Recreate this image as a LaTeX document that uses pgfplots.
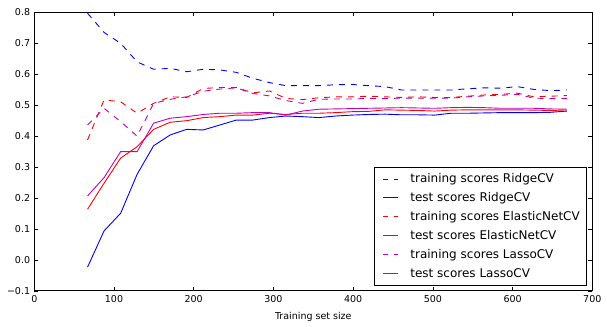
\documentclass[border=0pt]{standalone}
\usepackage{fontspec}
\setmainfont{DejaVu Sans}
\usepackage{pgfplots}
\pgfplotsset{compat=1.18}
\usepackage{pgfplotstable}
\definecolor{mplb}{rgb}{0,0,1}
\definecolor{mplr}{rgb}{1,0,0}
\definecolor{mplm}{rgb}{0.75,0,0.75}
\pgfplotstableread{
n trR trE trL teR teE teL
66.8 0.797 0.388 0.436 -0.023 0.164 0.207
87.5 0.735 0.517 0.490 0.094 0.248 0.266
108.3 0.700 0.511 0.447 0.151 0.329 0.350
129.0 0.640 0.474 0.400 0.277 0.366 0.350
149.7 0.616 0.506 0.506 0.369 0.422 0.442
170.5 0.619 0.527 0.519 0.404 0.445 0.458
191.2 0.608 0.525 0.527 0.422 0.450 0.463
211.9 0.616 0.554 0.545 0.420 0.460 0.470
232.7 0.614 0.557 0.552 0.436 0.463 0.474
253.4 0.606 0.557 0.556 0.452 0.468 0.474
274.1 0.587 0.540 0.538 0.452 0.468 0.476
294.9 0.573 0.546 0.530 0.460 0.474 0.476
315.6 0.563 0.522 0.515 0.465 0.470 0.468
336.3 0.563 0.518 0.506 0.463 0.474 0.481
357.1 0.563 0.524 0.519 0.460 0.474 0.487
377.8 0.566 0.527 0.520 0.465 0.476 0.488
398.5 0.567 0.527 0.520 0.468 0.479 0.489
419.2 0.563 0.529 0.522 0.470 0.480 0.490
440.0 0.560 0.527 0.521 0.471 0.485 0.491
460.7 0.549 0.525 0.523 0.469 0.484 0.492
481.4 0.549 0.527 0.523 0.469 0.483 0.491
502.2 0.549 0.525 0.523 0.468 0.481 0.490
522.9 0.549 0.525 0.523 0.474 0.484 0.492
543.6 0.553 0.529 0.527 0.474 0.485 0.493
564.4 0.556 0.533 0.530 0.475 0.485 0.492
585.1 0.555 0.535 0.532 0.476 0.485 0.490
605.8 0.560 0.539 0.535 0.476 0.485 0.490
626.6 0.551 0.527 0.523 0.476 0.484 0.490
647.3 0.547 0.529 0.521 0.477 0.483 0.488
668.0 0.549 0.531 0.522 0.481 0.481 0.487
}\data
\begin{document}
\fontsize{12}{14}\selectfont
\begin{tikzpicture}
\begin{axis}[
  scale only axis, width=558pt, height=278.7pt,
  xmin=0, xmax=700, ymin=-0.1, ymax=0.8,
  xtick={0,100,200,300,400,500,600,700},
  ytick={-0.1,0,0.1,0.2,0.3,0.4,0.5,0.6,0.7,0.8},
  yticklabels={−0.1,0.0,0.1,0.2,0.3,0.4,0.5,0.6,0.7,0.8},
  tick align=inside, major tick length=4pt,
  tick style={black, line width=0.5pt},
  axis line style={black, line width=1pt},
  ticklabel style={font=\fontsize{9.5}{11}\selectfont},
  /pgf/number format/assume math mode=true,
  xticklabel style={/pgf/number format/.cd, fixed, precision=0},
  xlabel={Training set size},
  xlabel style={font=\fontsize{9.5}{11}\selectfont, yshift=-2pt},
  legend style={at={(0.9887,0.0215)}, anchor=south east,
    row sep=4pt, inner xsep=4pt, inner ysep=4pt},
  legend cell align=left,
  legend image code/.code={\draw[#1] (5pt,0pt) -- (20pt,0pt); \path[draw=none] (0pt,0pt) -- (30pt,0pt);},
  every axis plot/.append style={line width=0.9pt},
]
\addplot[mplb, dash pattern=on 6pt off 6pt, legend image post style={dash pattern=on 4.5pt off 6pt}] table[x=n, y=trR] {\data};
\addlegendentry{training scores RidgeCV}
\addplot[mplb] table[x=n, y=teR] {\data};
\addlegendentry{test scores RidgeCV}
\addplot[mplr, dash pattern=on 6pt off 6pt, legend image post style={dash pattern=on 4.5pt off 6pt}] table[x=n, y=trE] {\data};
\addlegendentry{training scores ElasticNetCV}
\addplot[mplr] table[x=n, y=teE] {\data};
\addlegendentry{test scores ElasticNetCV}
\addplot[mplm, dash pattern=on 6pt off 6pt, legend image post style={dash pattern=on 4.5pt off 6pt}] table[x=n, y=trL] {\data};
\addlegendentry{training scores LassoCV}
\addplot[mplm] table[x=n, y=teL] {\data};
\addlegendentry{test scores LassoCV}
\end{axis}
\pgfresetboundingbox
\path (current axis.south west) ++(-34.3pt,-36pt) coordinate (bl);
\path (current axis.north east) ++(14.7pt,12.3pt) coordinate (tr);
\path (bl) rectangle (tr);
\end{tikzpicture}
\end{document}
